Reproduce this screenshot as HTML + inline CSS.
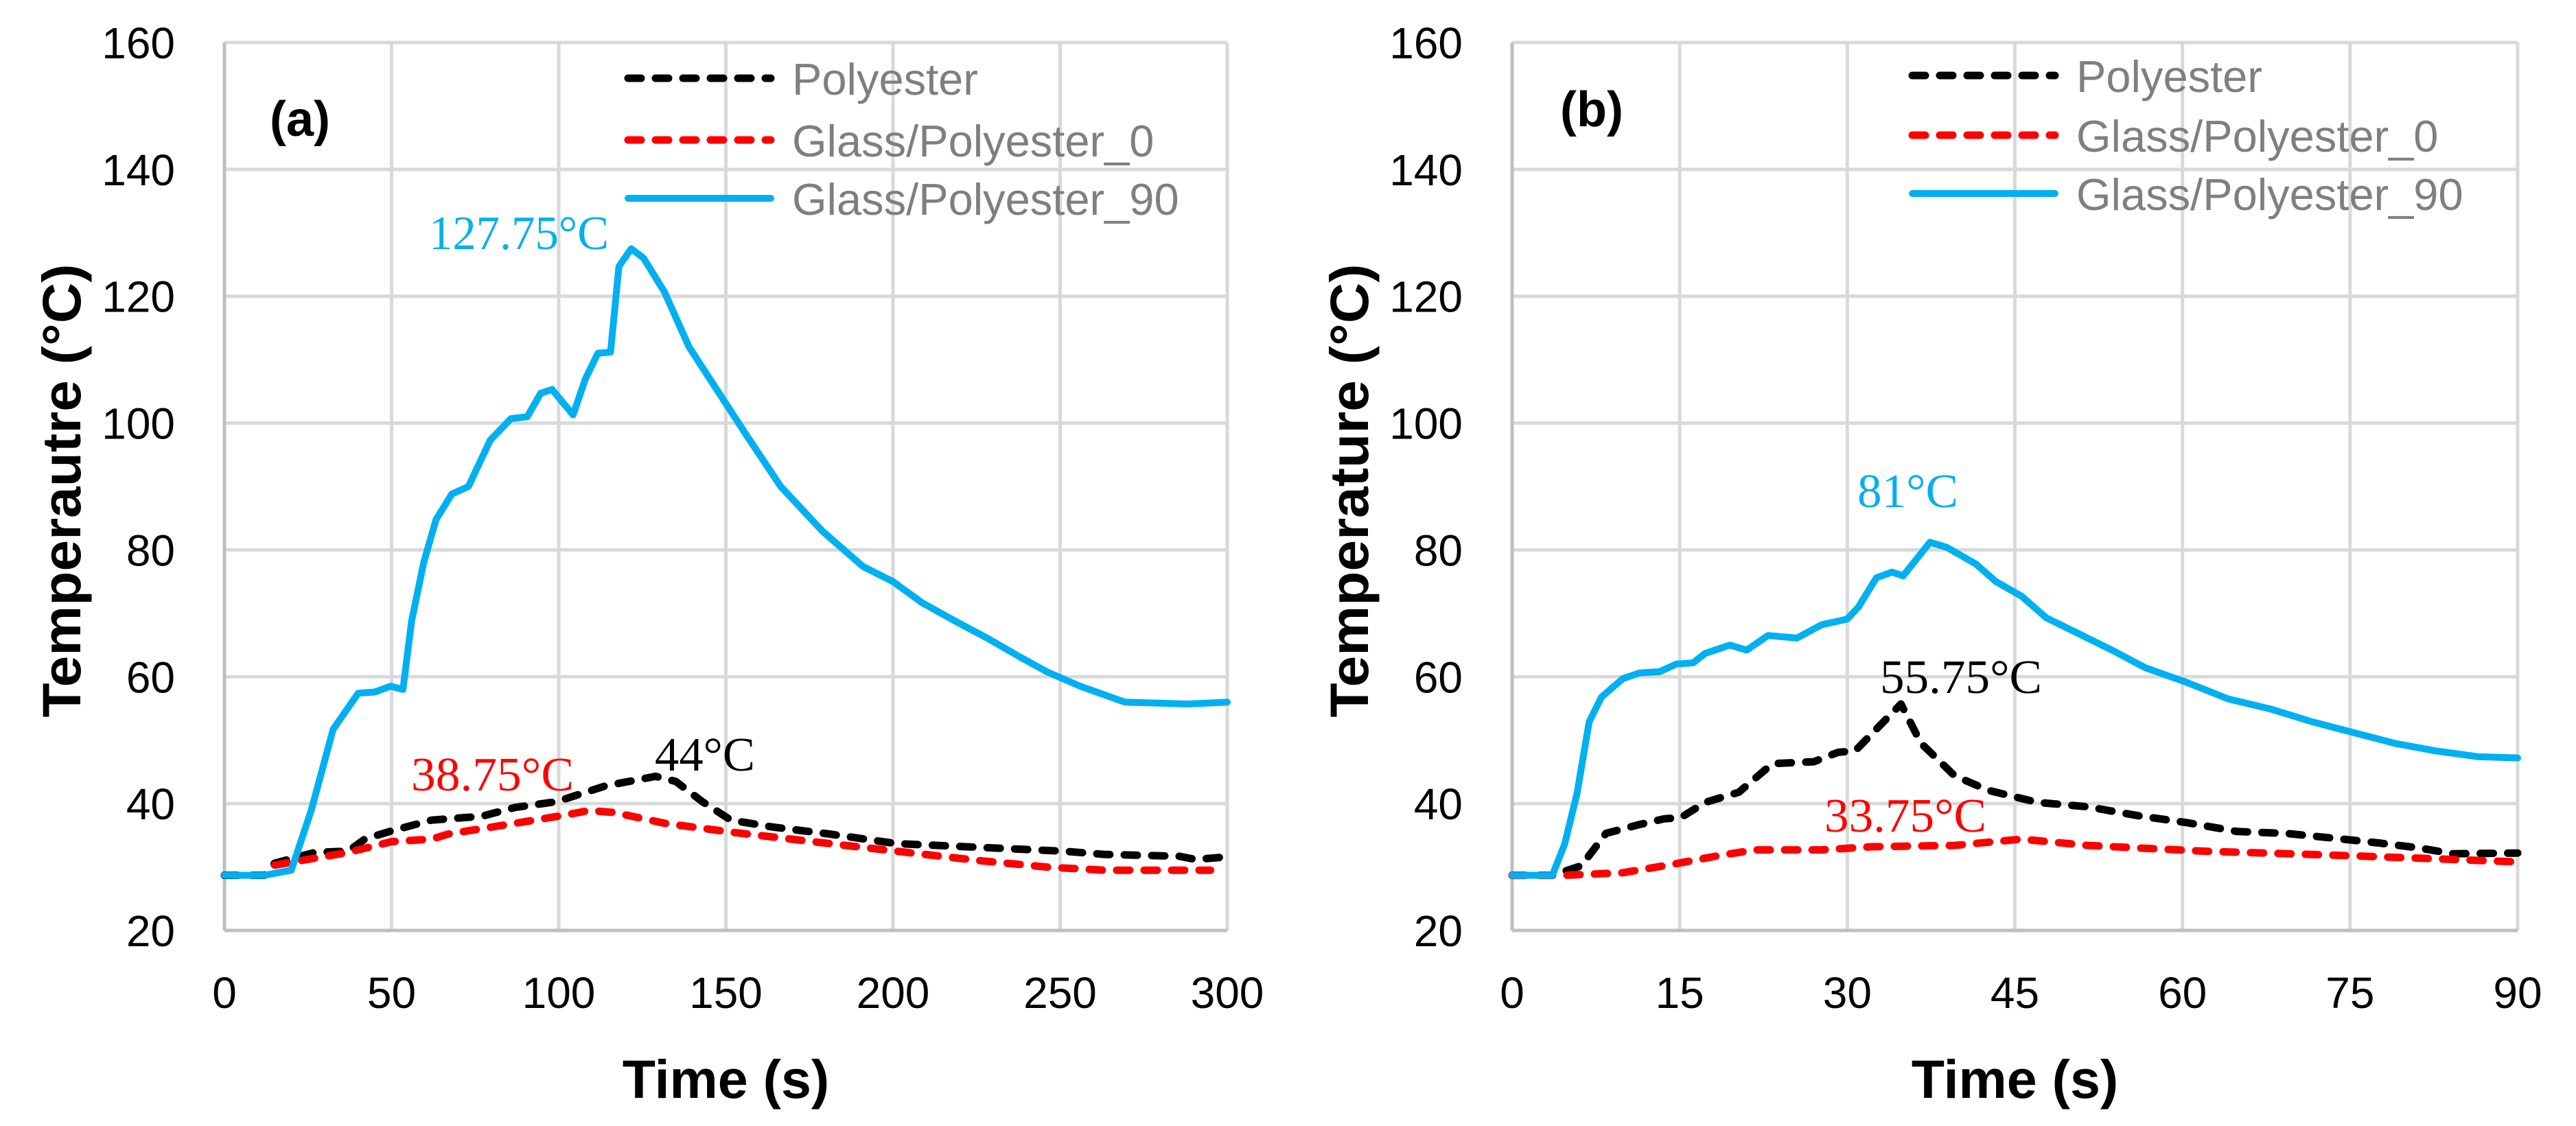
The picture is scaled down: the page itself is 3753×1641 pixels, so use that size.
<!DOCTYPE html>
<html><head><meta charset="utf-8"><style>
html,body{margin:0;padding:0;background:#fff;}
svg{display:block;}
text{font-family:"Liberation Sans",sans-serif;}
.tick{font-size:64px;fill:#000;}
.ttl{font-size:79px;font-weight:bold;fill:#000;}
.leg{font-size:65px;fill:#7f7f7f;}
.ann{font-family:"Liberation Serif",serif;font-size:70px;}
</style></head><body>
<svg id="chart" width="3753" height="1641" viewBox="0 0 3753 1641" xmlns="http://www.w3.org/2000/svg"></svg>
<script>
// Panel (a) data
const aTimeBlue=[0,12,20,26,32.5,40,45,49.7,53.4,56,59.6,63.3,68,73,79.5,85.7,90.6,94.6,98,104.3,108,111.7,115.5,118,121.7,125.4,131.6,139,146.5,156.4,166.4,178.8,191,200,208.6,218.5,228.5,238.4,246,256,269.4,288,300];
const aBlue=[28.7,28.7,29.5,39,51.7,57.4,57.6,58.5,58,68.8,78,84.8,88.8,90,97.3,100.7,101,104.7,105.3,101.3,107,111,111.2,124.7,127.5,126,120.7,112,105.9,97.9,90,83,77.4,75,71.7,68.8,66,63,60.8,58.5,56,55.7,56];
const aTimeBlack=[0,12,15,27,37,42,50,62,77,87,99.3,114,129,135,143,151.5,164,181,201,226,251,263,285.6,290.5,300];
const aBlack=[28.7,28.7,30.6,32.3,32.5,34.4,35.7,37.4,38,39.4,40.3,42.8,44.3,43.5,40.3,37.4,36.3,35.2,33.7,33.1,32.5,32,31.7,31.2,31.6];
const aTimeRed=[15,37,50,62,67,87,102,109,116.7,131.6,151.5,176,201,226,246,263,295];
const aRed=[30.3,32.3,34,34.4,35.2,36.9,38.2,38.9,38.6,36.9,35.5,34,32.5,31,30,29.5,29.5];
// Panel (b) data
const bTimeBlue=[0,3.6,4.7,5.8,6.9,8,9.9,11.4,13.2,14.7,16.2,17.3,19.5,21,22.9,25.5,27.7,30,31,32.6,34,35,37.4,38.9,41.5,43.3,45.6,47.8,50,53.7,56.7,60.4,64.1,67.9,71.6,75.3,79,82.7,86.4,90];
const bBlue=[28.7,28.7,33.6,41.5,52.9,56.8,59.7,60.6,60.8,62,62.2,63.7,65,64.2,66.5,66.1,68.2,69.1,71,75.6,76.5,75.9,81.2,80.4,77.8,75,72.7,69.3,67.4,64.2,61.4,59.1,56.5,54.9,52.9,51.2,49.5,48.3,47.4,47.2];
const bTimeBlack=[0,3.6,6.2,8.4,11.4,13.6,15.1,17.3,20.3,23.3,27,29.2,30.7,34.8,36.6,39.6,42.6,47,51.5,56,60.4,64.9,69.3,73.8,77.5,81.2,84.2,90];
const bBlack=[28.7,28.7,30.2,35.3,36.7,37.6,37.8,40.2,41.8,46.3,46.6,48.1,48.3,55.7,49.5,44.4,42.1,40.2,39.5,38.1,37,35.6,35.3,34.5,33.8,33,32.1,32.2];
const bTimeRed=[0,4.7,9.9,14.3,18.8,21.8,27.7,32.2,39.6,45.6,51.5,61.9,73,82.7,90];
const bRed=[28.7,28.7,29.1,30.4,31.9,32.7,32.7,33.2,33.4,34.4,33.4,32.5,31.9,31.3,30.8];
const yTicks=[20,40,60,80,100,120,140,160];
const aXTicks=[0,50,100,150,200,250,300];
const bXTicks=[0,15,30,45,60,75,90];
const legendNames=["Polyester","Glass/Polyester_0","Glass/Polyester_90"];

const NS="http://www.w3.org/2000/svg";
const svg=document.getElementById('chart');
function mk(tag,attrs,parent,text){const e=document.createElementNS(NS,tag);for(const k in attrs)e.setAttribute(k,attrs[k]);if(text!==undefined)e.textContent=text;(parent||svg).appendChild(e);return e;}

function panel(cfg){
  const g=mk('g',{});
  
  
  const X=t=>cfg.L+t/cfg.xmax*(cfg.R-cfg.L);
  const Y=v=>cfg.B-(v-20)/140*(cfg.B-cfg.T);
  yTicks.forEach(v=>{
    const l=mk('line',{x1:cfg.L,x2:cfg.R,y1:Y(v),y2:Y(v),stroke:'#d9d9d9','stroke-width':5},g);
    
    
    const t=mk('text',{x:cfg.L-72,y:Y(v)+23,'text-anchor':'end',class:'tick'},g,String(v));
    
    
  });
  cfg.xt.forEach(v=>{
    const l=mk('line',{x1:X(v),x2:X(v),y1:cfg.T,y2:cfg.B,stroke:'#d9d9d9','stroke-width':5},g);
    
    
    const t=mk('text',{x:X(v),y:1469,'text-anchor':'middle',class:'tick'},g,String(v));
    
    
  });
  const ax=mk('line',{x1:cfg.L,x2:cfg.R,y1:cfg.B,y2:cfg.B,stroke:'#bfbfbf','stroke-width':5},g);
  
  
  const ay=mk('line',{x1:cfg.L,x2:cfg.L,y1:cfg.T,y2:cfg.B,stroke:'#bfbfbf','stroke-width':5},g);
  
  
  const series=[
    {x:cfg.tb,y:cfg.bk,c:'#000',d:true,n:'polyester-line'},
    {x:cfg.tr,y:cfg.rd,c:'#ff0000',d:true,n:'glass-polyester-0-line'},
    {x:cfg.tbl,y:cfg.bl,c:'#00b0f0',d:false,n:'glass-polyester-90-line'}];
  series.forEach(s=>{
    const pts=s.x.map((t,i)=>X(t).toFixed(1)+','+Y(s.y[i]).toFixed(1)).join(' ');
    const p=mk('polyline',{points:pts,fill:'none',stroke:s.c,'stroke-width':s.d?11:10,'stroke-linejoin':'round','stroke-linecap':'round','stroke-dasharray':s.d?'19 21':'none'},g);
    
    
  });
  const cols=['#000','#ff0000','#00b0f0'];
  legendNames.forEach((n,i)=>{
    const y=cfg.legY[i];
    const l=mk('line',{x1:cfg.legX+6,x2:cfg.legX+214,y1:y,y2:y,stroke:cols[i],'stroke-width':i==2?10:11,'stroke-linecap':'round','stroke-dasharray':i==2?'none':'19 21'},g);
    
    
    const t=mk('text',{x:cfg.legX+245,y:y+24,class:'leg'},g,n);
    
    
  });
  const lb=mk('text',{x:cfg.lbX,y:cfg.lbY,'font-size':72,'font-weight':'bold'},g,cfg.lb);
  
  
  const xt=mk('text',{x:(cfg.L+cfg.R)/2,y:1600,'text-anchor':'middle',class:'ttl'},g,'Time (s)');
  
  
  const yt=mk('text',{x:0,y:0,'text-anchor':'middle',class:'ttl',transform:`translate(${cfg.ytX},715) rotate(-90)`,textLength:661,lengthAdjust:'spacingAndGlyphs'},g,cfg.ytl);
  
  
  cfg.anns.forEach(a=>{
    const t=mk('text',{x:a[0],y:a[1],class:'ann',fill:a[3],textLength:a[4],lengthAdjust:'spacingAndGlyphs'},g,a[2]);
    
    
  });
}
panel({id:'a',L:327,R:1788,T:62,B:1356,xmax:300,xt:aXTicks,tb:aTimeBlack,bk:aBlack,tr:aTimeRed,rd:aRed,tbl:aTimeBlue,bl:aBlue,
  legX:909,legY:[114,204,289],lb:'(a)',lbX:393,lbY:198,ytX:117,ytl:'Temperautre (°C)',
  anns:[[625,363,'127.75°C','#00b0f0',262],[599,1152,'38.75°C','#ff0000',237],[954,1123,'44°C','#000',146]]});
panel({id:'b',L:2203,R:3668,T:62,B:1356,xmax:90,xt:bXTicks,tb:bTimeBlack,bk:bBlack,tr:bTimeRed,rd:bRed,tbl:bTimeBlue,bl:bBlue,
  legX:2780,legY:[110,197,282],lb:'(b)',lbX:2273,lbY:184,ytX:1993,ytl:'Temperature (°C)',
  anns:[[2706,739,'81°C','#00b0f0',147],[2739,1010,'55.75°C','#000',236],[2658,1212,'33.75°C','#ff0000',236]]});
</script>
</body></html>
